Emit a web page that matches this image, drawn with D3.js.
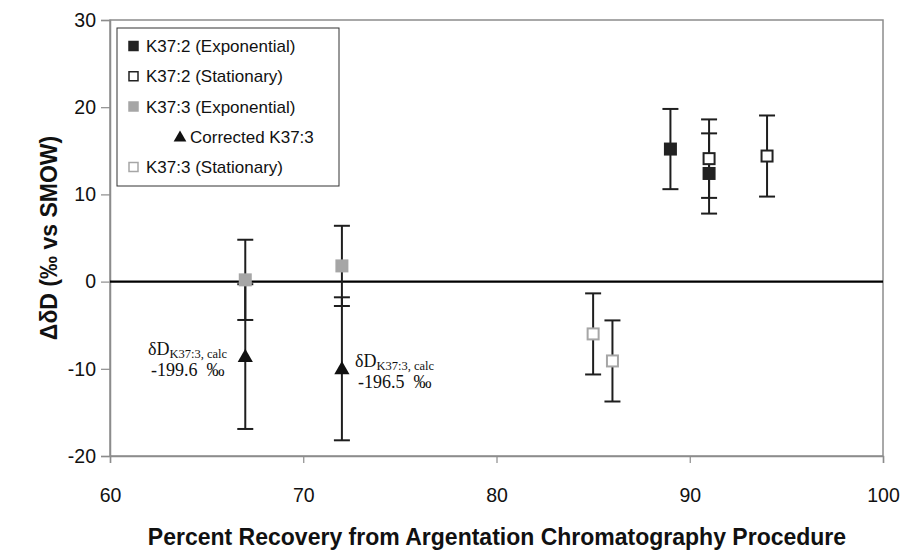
<!DOCTYPE html>
<html>
<head>
<meta charset="utf-8">
<script src="https://cdn.jsdelivr.net/npm/d3@7"></script>
<style>
  body { margin: 0; background: #fff; }
  svg text { font-family: "Liberation Sans", Arial, sans-serif; }
</style>
</head>
<body>
<script>
// each point: [percent recovery, ΔδD, error]
var k372Exponential = [[89, 15.2, 4.6], [91, 12.4, 4.6]];
var k372Stationary = [[91, 14.1, 4.5], [94, 14.4, 4.65]];
var k373Exponential = [[67, 0.2, 4.6], [72, 1.8, 4.6]];
var correctedK373 = [[67, -8.6, 8.3], [72, -10.0, 8.2]];
var k373Stationary = [[85, -6.0, 4.65], [86, -9.1, 4.65]];

var legendLabels = ["K37:2 (Exponential)", "K37:2 (Stationary)", "K37:3 (Exponential)", "Corrected K37:3", "K37:3 (Stationary)"];
var calcLabels = ["-199.6  \u2030", "-196.5  \u2030"];
var xTicks = [60, 70, 80, 90, 100];
var yTicks = [-20, -10, 0, 10, 20, 30];

var w = 904, h = 550;
var plotLeft = 110, plotRight = 883, plotTop = 20, plotBottom = 456;

var svg = d3.select("body").append("svg")
  .attr("width", w)
  .attr("height", h);

var x = d3.scaleLinear().domain([60, 100]).range([plotLeft, plotRight]);
var y = d3.scaleLinear().domain([-20, 30]).range([plotBottom, plotTop]);

// frame
svg.append("rect")
  .attr("x", plotLeft).attr("y", plotTop)
  .attr("width", plotRight - plotLeft).attr("height", plotBottom - plotTop)
  .attr("fill", "none").attr("stroke", "#8c8c8c").attr("stroke-width", 1.5);

var xAxis = svg.append("g")
  .attr("transform", "translate(0," + plotBottom + ")")
  .call(d3.axisBottom(x).tickValues(xTicks).tickFormat(String).tickSize(7).tickPadding(25));
var yAxis = svg.append("g")
  .attr("transform", "translate(" + plotLeft + ",0)")
  .call(d3.axisLeft(y).tickValues(yTicks).tickFormat(String).tickSize(9).tickPadding(5));

[xAxis, yAxis].forEach(function(g) {
  g.select(".domain").attr("stroke", "#8c8c8c").attr("stroke-width", 1.5);
  g.selectAll(".tick line").attr("stroke", "#8c8c8c").attr("stroke-width", 1.2);
  g.selectAll(".tick text")
    .attr("fill", "#111")
    .style("font-size", "19.5px")
    .style("font-family", "'Liberation Sans', Arial, sans-serif");
});

// zero line
svg.append("line")
  .attr("x1", plotLeft).attr("x2", plotRight)
  .attr("y1", y(0)).attr("y2", y(0))
  .attr("stroke", "#000").attr("stroke-width", 2.2);

var allPoints = [].concat(k372Exponential, k372Stationary, k373Exponential, correctedK373, k373Stationary);

// error bars
var bars = svg.append("g").attr("stroke", "#1e1e1e").attr("stroke-width", 2);
allPoints.forEach(function(d) {
  bars.append("line")
    .attr("x1", x(d[0])).attr("x2", x(d[0]))
    .attr("y1", y(d[1] + d[2])).attr("y2", y(d[1] - d[2]));
  [d[1] + d[2], d[1] - d[2]].forEach(function(v) {
    bars.append("line")
      .attr("x1", x(d[0]) - 8).attr("x2", x(d[0]) + 8)
      .attr("y1", y(v)).attr("y2", y(v));
  });
});

function squares(data, fill, stroke) {
  svg.append("g").selectAll("rect")
    .data(data)
    .enter()
    .append("rect")
    .attr("x", function(d) { return x(d[0]) - 5.5; })
    .attr("y", function(d) { return y(d[1]) - 5.5; })
    .attr("width", 11).attr("height", 11)
    .attr("fill", fill)
    .attr("stroke", stroke)
    .attr("stroke-width", 2);
}

squares(k372Exponential, "#222", "#222");
squares(k372Stationary, "#fff", "#222");
squares(k373Exponential, "#a6a6a6", "#a6a6a6");
squares(k373Stationary, "#fff", "#a6a6a6");

var tri = d3.symbol().type(d3.symbolTriangle).size(100);
svg.append("g").selectAll("path")
  .data(correctedK373)
  .enter()
  .append("path")
  .attr("d", tri)
  .attr("transform", function(d) { return "translate(" + x(d[0]) + "," + (y(d[1]) + 1) + ")"; })
  .attr("fill", "#111");

// calc annotations
var annotX = [148, 355];
var annotY = [355, 367];
calcLabels.forEach(function(lbl, i) {
  var t = svg.append("text")
    .attr("x", annotX[i]).attr("y", annotY[i])
    .style("font-family", "'Liberation Serif', 'Times New Roman', serif")
    .style("font-size", "18px")
    .attr("fill", "#111");
  t.append("tspan").text("\u03B4D");
  t.append("tspan").attr("dy", 3).style("font-size", "12.5px").text("K37:3, calc");
  svg.append("text")
    .attr("x", annotX[i] + 3).attr("y", annotY[i] + 21)
    .style("font-family", "'Liberation Serif', 'Times New Roman', serif")
    .style("font-size", "18px")
    .attr("fill", "#111")
    .attr("xml:space", "preserve")
    .text(lbl);
});

// legend
var lg = svg.append("g");
lg.append("rect")
  .attr("x", 117).attr("y", 28)
  .attr("width", 222).attr("height", 158)
  .attr("fill", "#fff").attr("stroke", "#333").attr("stroke-width", 1);

var legendY = d3.scalePoint().domain(legendLabels).range([46, 167]);
var legendStyle = [
  {fill: "#222", stroke: "#222"},
  {fill: "#fff", stroke: "#222"},
  {fill: "#a6a6a6", stroke: "#a6a6a6"},
  null,
  {fill: "#fff", stroke: "#a6a6a6"}
];
legendLabels.forEach(function(lbl, i) {
  var cy = legendY(lbl);
  var tx = 146;
  if (legendStyle[i]) {
    lg.append("rect")
      .attr("x", 129).attr("y", cy - 4.5)
      .attr("width", 9).attr("height", 9)
      .attr("fill", legendStyle[i].fill)
      .attr("stroke", legendStyle[i].stroke)
      .attr("stroke-width", 1.5);
  } else {
    lg.append("path")
      .attr("d", d3.symbol().type(d3.symbolTriangle).size(70))
      .attr("transform", "translate(180," + (cy + 1) + ")")
      .attr("fill", "#111");
    tx = 190;
  }
  lg.append("text")
    .attr("x", tx).attr("y", cy + 6)
    .style("font-size", "17px")
    .attr("fill", "#111")
    .text(lbl);
});

// axis titles
svg.append("text")
  .attr("transform", "translate(57," + ((plotTop + plotBottom) / 2) + ") rotate(-90)")
  .attr("text-anchor", "middle")
  .style("font-size", "23px")
  .style("font-weight", "bold")
  .attr("fill", "#111")
  .text("\u0394\u03B4D (\u2030 vs SMOW)");

svg.append("text")
  .attr("x", 497).attr("y", 545)
  .attr("text-anchor", "middle")
  .style("font-size", "23px")
  .style("font-weight", "bold")
  .attr("fill", "#111")
  .text("Percent Recovery from Argentation Chromatography Procedure");
</script>
</body>
</html>
